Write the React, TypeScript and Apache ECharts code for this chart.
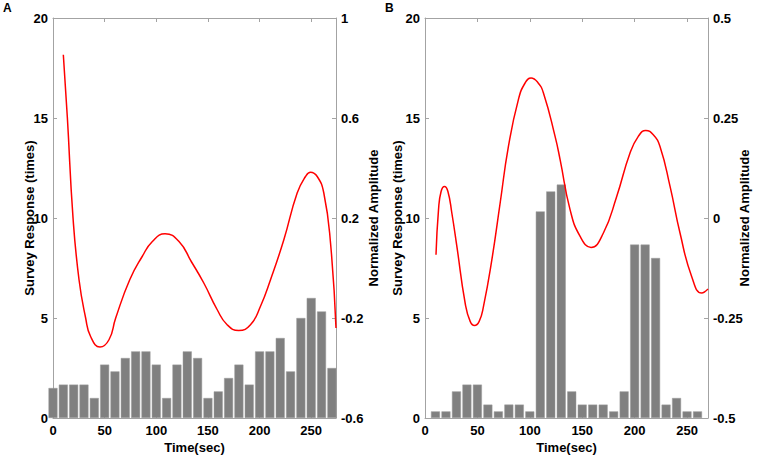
import { useEffect, useRef } from "react";
import * as echarts from "echarts";

// Panel A data
const timesA = [0, 10, 20, 30, 40, 50, 60, 70, 80, 90, 100, 110, 120, 130, 140, 150, 160, 170, 180, 190, 200, 210, 220, 230, 240, 250, 260, 270];
const countsA = [1.5, 1.67, 1.67, 1.67, 1.0, 2.67, 2.33, 3.0, 3.33, 3.33, 2.67, 1.0, 2.67, 3.33, 3.0, 1.0, 1.33, 2.0, 2.67, 1.67, 3.33, 3.33, 4.0, 2.33, 5.0, 6.0, 5.33, 2.5];
const curveA: [number, number][] = [
  [10, 0.853], [13.9, 0.602], [19.4, 0.2], [25.2, -0.047], [31.6, -0.2], [36.4, -0.274], [45.5, -0.316],
  [54.2, -0.287], [60.7, -0.2], [74.3, -0.047], [86.5, 0.047], [96.2, 0.106], [108.5, 0.137],
  [122, 0.106], [134, 0.025], [146, -0.06], [159, -0.167], [168.6, -0.227], [179.8, -0.25],
  [191.2, -0.227], [200.9, -0.153], [210.6, -0.047], [223.5, 0.113], [236.4, 0.3], [244.5, 0.366],
  [249.3, 0.383], [255.8, 0.366], [262.2, 0.3], [268.7, 0.1], [274, -0.24],
];

// Panel B data
const timesB = [10, 20, 30, 40, 50, 60, 70, 80, 90, 100, 110, 120, 130, 140, 150, 160, 170, 180, 190, 200, 210, 220, 230, 240, 250, 260];
const countsB = [0.33, 0.33, 1.33, 1.67, 1.67, 0.67, 0.33, 0.67, 0.67, 0.33, 10.33, 11.33, 11.67, 1.33, 0.67, 0.67, 0.67, 0.33, 1.33, 8.67, 8.67, 8.0, 0.67, 1.0, 0.33, 0.33];
const curveB: [number, number][] = [
  [10.5, -0.092], [12.9, 0.021], [15.4, 0.067], [18.6, 0.079], [21.8, 0.067], [25.6, 0.0125],
  [30.4, -0.071], [38.3, -0.2125], [43.1, -0.2585], [47.2, -0.269], [51.7, -0.2585], [55.8, -0.221],
  [63.8, -0.104], [71.7, 0.0375], [79.6, 0.179], [89.1, 0.296], [95.5, 0.3375], [101.2, 0.35],
  [107.6, 0.339], [113, 0.3125], [124.1, 0.204], [128.9, 0.146], [138.4, 0.021], [148, -0.046],
  [158.4, -0.0735], [170.2, -0.0375], [182.9, 0.054], [195.6, 0.1625], [203.5, 0.204], [210.6, 0.219],
  [217.8, 0.208], [224.2, 0.179], [233.8, 0.079], [243.3, -0.0375], [254.4, -0.146], [264, -0.1875],
  [270, -0.1775],
];

// Tick labels
const timeTicks = [0, 50, 100, 150, 200, 250];
const ampTicksA = [-0.6, -0.2, 0.2, 0.6, 1];
const ampTicksB = [-0.5, -0.25, 0, 0.25, 0.5];

const FONT = "'Liberation Sans', Arial, Helvetica, sans-serif";
const AXIS_COLOR = "#a3a3a3";
const labelStyle = { color: "#000", fontWeight: "bold" as const, fontSize: 13, fontFamily: FONT };

function buildPanel(i: number, left: number, xMax: number, ampTicks: number[], gapL: number, gapR: number, times: number[], counts: number[], curve: [number, number][]) {
  const ampMin = ampTicks[0];
  const ampMax = ampTicks[ampTicks.length - 1];
  const grid = { left, top: 18, width: 283, height: 400, containLabel: false, outerBoundsMode: "none" };
  const line = { onZero: false, lineStyle: { color: AXIS_COLOR, width: 1 } };
  const tick = (vals?: number[]) => ({ inside: true, length: 4, lineStyle: { color: AXIS_COLOR }, ...(vals ? { customValues: vals } : {}) });
  const xAxes = [
    {
      type: "value", gridIndex: i, min: 0, max: xMax, position: "bottom",
      axisLine: line, axisTick: tick(timeTicks),
      axisLabel: { ...labelStyle, customValues: timeTicks, margin: 6 },
      splitLine: { show: false },
      name: "Time(sec)", nameLocation: "middle", nameGap: 23, nameMoveOverlap: false,
      nameTextStyle: { ...labelStyle, fontSize: 13 },
    },
    {
      type: "value", gridIndex: i, min: 0, max: xMax, position: "top",
      axisLine: line, axisTick: tick(timeTicks),
      axisLabel: { show: false }, splitLine: { show: false },
    },
  ];
  const yAxes = [
    {
      type: "value", gridIndex: i, min: 0, max: 20, interval: 5, position: "left",
      axisLine: { ...line, show: true }, axisTick: { ...tick(), show: true },
      axisLabel: { ...labelStyle, margin: 5 }, splitLine: { show: false },
      name: "Survey Response (times)", nameLocation: "middle", nameGap: gapL, nameRotate: 90,
      nameMoveOverlap: false,
      nameTextStyle: { ...labelStyle },
    },
    {
      type: "value", gridIndex: i, min: ampMin, max: ampMax, position: "right",
      axisLine: { ...line, show: true }, axisTick: { ...tick(ampTicks), show: true },
      axisLabel: { ...labelStyle, margin: 5, customValues: ampTicks }, splitLine: { show: false },
      name: "Normalized Amplitude", nameLocation: "middle", nameGap: gapR, nameRotate: 90,
      nameMoveOverlap: false,
      nameTextStyle: { ...labelStyle },
    },
  ];
  const series = [
    {
      type: "bar", xAxisIndex: 2 * i, yAxisIndex: 2 * i,
      data: times.map((t, k) => [t, counts[k]]),
      barWidth: 9,
      itemStyle: { color: "#808080", borderColor: "#9c9c9c", borderWidth: 0.5 },
      clip: true,
    },
    {
      type: "line", xAxisIndex: 2 * i, yAxisIndex: 2 * i + 1,
      data: curve, smooth: 0.5, symbol: "none", showSymbol: false,
      lineStyle: { color: "#ff0000", width: 1.5 }, z: 5,
    },
  ];
  return { grid, xAxes, yAxes, series };
}

export default function App() {
  const ref = useRef<HTMLDivElement>(null);
  useEffect(() => {
    if (!ref.current) return;
    const chart = echarts.init(ref.current, undefined, { renderer: "svg" });
    const pA = buildPanel(0, 53, 274, ampTicksA, 17, 31, timesA, countsA, curveA);
    const pB = buildPanel(1, 425, 270, ampTicksB, 21, 30, timesB, countsB, curveB);
    chart.setOption({
      animation: false,
      backgroundColor: "#fff",
      textStyle: { fontFamily: FONT },
      grid: [pA.grid, pB.grid],
      xAxis: [...pA.xAxes, ...pB.xAxes],
      yAxis: [...pA.yAxes, ...pB.yAxes],
      series: [...pA.series, ...pB.series],
      graphic: [
        { type: "text", left: 3, top: 2, style: { text: "A", fontSize: 12, fontWeight: "bold", fill: "#000", fontFamily: FONT } },
        { type: "text", left: 385, top: 2, style: { text: "B", fontSize: 12, fontWeight: "bold", fill: "#000", fontFamily: FONT } },
      ],
    });
    return () => chart.dispose();
  }, []);
  return <div ref={ref} style={{ position: "fixed", left: 0, top: 0, width: 760, height: 456 }} />;
}
